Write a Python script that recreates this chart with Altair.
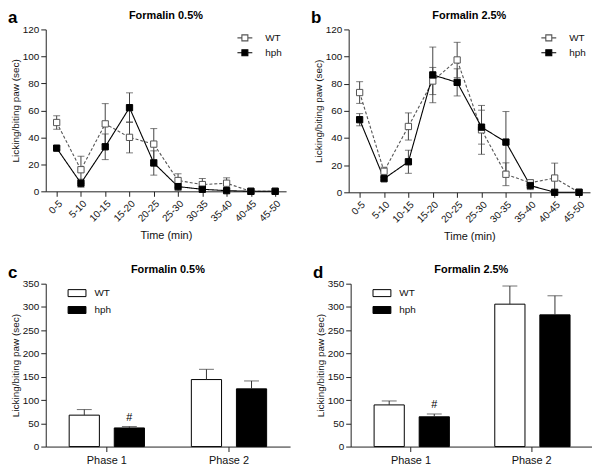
import altair as alt
import pandas as pd

FONT = "Liberation Sans"

times = ["0-5", "5-10", "10-15", "15-20", "20-25", "25-30", "30-35", "35-40", "40-45", "45-50"]
groups = ["WT", "hph"]
phases = ["Phase 1", "Phase 2"]
line_ticks = [0, 20, 40, 60, 80, 100, 120]
bar_ticks = [0, 50, 100, 150, 200, 250, 300, 350]

# Panel a: Formalin 0.5%
a_wt_mean = [51, 16, 50, 40, 35, 8, 5, 6, 0, 0]
a_wt_sem = [5, 10, 15, 11.5, 11.5, 5, 4.5, 4, 0, 0]
a_hph_mean = [32, 6, 33, 62, 21, 3.5, 1.5, 0.5, 0, 0]
a_hph_sem = [1, 3, 9.5, 11, 9, 3, 1, 0.5, 0, 0]

# Panel b: Formalin 2.5%
b_wt_mean = [73.5, 15.5, 48.5, 82, 97.5, 46, 13.3, 7, 10.5, 0]
b_wt_sem = [8, 3, 10, 10, 13, 18, 8.4, 2, 11, 0]
b_hph_mean = [53.5, 10, 22.5, 86.5, 81, 48, 37, 5, 0, 0]
b_hph_sem = [4.5, 1, 8.5, 20.5, 10, 12.5, 22.5, 3, 0, 0]

# Panel c: Formalin 0.5% phases
c_wt_mean = [67.5, 144]
c_wt_sem = [12, 22]
c_hph_mean = [40, 124]
c_hph_sem = [3, 17]

# Panel d: Formalin 2.5% phases
d_wt_mean = [89.5, 306]
d_wt_sem = [8.5, 39]
d_hph_mean = [64, 283]
d_hph_sem = [6, 41]

LINE_SYMBOL = "M-1,0L-0.4,0M0.4,0L1,0M-0.4,-0.4L0.4,-0.4L0.4,0.4L-0.4,0.4Z"
BAR_SYMBOL = "M-1,-0.39L1,-0.39L1,0.39L-1,0.39Z"
YTITLE = "Licking/biting paw (sec)"


def heading_layers(letter, title, w):
    let = alt.Chart(pd.DataFrame({"t": [letter]})).mark_text(
        font=FONT, fontSize=17, fontWeight="bold", align="left", baseline="top", color="black"
    ).encode(text="t:N", x=alt.value(-38), y=alt.value(-19))
    ttl = alt.Chart(pd.DataFrame({"t": [title]})).mark_text(
        font=FONT, fontSize=11, fontWeight="bold", align="center", baseline="middle", color="black"
    ).encode(text="t:N", x=alt.value(w / 2), y=alt.value(-14))
    return [let, ttl]


def line_panel(letter, title, wt_mean, wt_sem, hph_mean, hph_sem, w, h):
    rows = []
    for g, m, s in (("WT", wt_mean, wt_sem), ("hph", hph_mean, hph_sem)):
        for t, mv, sv in zip(times, m, s):
            rows.append({"time": t, "group": g, "mean": mv, "lo": max(mv - sv, 0), "hi": mv + sv})
    df = pd.DataFrame(rows)
    x = alt.X("time:N", sort=times, scale=alt.Scale(type="point", padding=0.45),
              axis=alt.Axis(title="Time (min)", labelAngle=-45, titlePadding=6, labelOverlap=False))
    yscale = alt.Scale(domain=[0, 120], nice=False)
    yaxis = alt.Axis(title=YTITLE, values=line_ticks, labelOverlap=False)

    def Y(field):
        return alt.Y(field, scale=yscale, axis=yaxis, title=YTITLE)

    base = alt.Chart(df).encode(x=x)
    err = base.mark_rule(color="#444", strokeWidth=1).encode(y=Y("lo:Q"), y2="hi:Q")
    cap_hi = base.mark_tick(color="#444", size=7, thickness=1, orient="horizontal").encode(y=Y("hi:Q"))
    cap_lo = base.mark_tick(color="#444", size=7, thickness=1, orient="horizontal").encode(y=Y("lo:Q"))
    lines = base.mark_line(strokeWidth=1.1).encode(
        y=Y("mean:Q"),
        detail="group:N",
        color=alt.Color("group:N", scale=alt.Scale(domain=groups, range=["#555555", "#000000"]), legend=None),
        strokeDash=alt.StrokeDash("group:N", scale=alt.Scale(domain=groups, range=[[3, 2], [1, 0]]), legend=None),
    )
    leg = alt.Legend(title=None, orient="none", legendX=w - 50, legendY=0, symbolType=LINE_SYMBOL,
                     symbolSize=225, symbolStrokeWidth=1.1, labelFontSize=10, labelFont=FONT,
                     rowPadding=1, labelOffset=12)
    points = base.mark_square(size=40, strokeWidth=1, opacity=1).encode(
        y=Y("mean:Q"),
        fill=alt.Fill("group:N", scale=alt.Scale(domain=groups, range=["white", "black"]), legend=leg),
        stroke=alt.Stroke("group:N", scale=alt.Scale(domain=groups, range=["#555555", "black"]), legend=leg),
    )
    return alt.layer(err, cap_hi, cap_lo, lines, points, *heading_layers(letter, title, w)).properties(
        width=w, height=h,
    ).resolve_scale(fill="independent", stroke="independent", color="independent", strokeDash="independent")


def bar_panel(letter, title, wt_mean, wt_sem, hph_mean, hph_sem, w, h):
    rows = []
    for g, m, s in (("WT", wt_mean, wt_sem), ("hph", hph_mean, hph_sem)):
        for p, mv, sv in zip(phases, m, s):
            rows.append({"phase": p, "group": g, "mean": mv, "hi": mv + sv,
                         "mark": "#" if (g == "hph" and p == "Phase 1") else ""})
    df = pd.DataFrame(rows)
    x = alt.X("phase:N", sort=phases, scale=alt.Scale(paddingInner=0, paddingOuter=0),
              axis=alt.Axis(title=None, labelAngle=0, labelFontSize=11, labelPadding=3))
    xo = alt.XOffset("group:N", sort=groups, scale=alt.Scale(paddingInner=0.33, paddingOuter=0.52))
    yscale = alt.Scale(domain=[0, 350], nice=False)
    yaxis = alt.Axis(title=YTITLE, values=bar_ticks, labelOverlap=False)

    def Y(field):
        return alt.Y(field, scale=yscale, axis=yaxis, title=YTITLE)

    base = alt.Chart(df).encode(x=x, xOffset=xo)
    err = base.mark_rule(color="#333", strokeWidth=1).encode(y=Y("mean:Q"), y2="hi:Q")
    cap = base.mark_tick(color="#333", size=15, thickness=1, orient="horizontal").encode(y=Y("hi:Q"))
    leg = alt.Legend(title=None, orient="none", legendX=22, legendY=0, symbolType=BAR_SYMBOL,
                     symbolSize=324, symbolStrokeWidth=1, labelFontSize=10, labelFont=FONT,
                     rowPadding=1, labelOffset=8)
    bars = base.mark_bar(strokeWidth=1, opacity=1).encode(
        y=Y("mean:Q"),
        fill=alt.Fill("group:N", scale=alt.Scale(domain=groups, range=["white", "black"]), legend=leg),
        stroke=alt.Stroke("group:N", scale=alt.Scale(domain=groups, range=["black", "black"]), legend=leg),
    )
    txt = base.mark_text(font=FONT, fontSize=11, dy=-9, color="black").encode(y=Y("hi:Q"), text="mark:N")
    return alt.layer(bars, err, cap, txt, *heading_layers(letter, title, w)).properties(
        width=w, height=h,
    ).resolve_scale(fill="independent", stroke="independent")


pa = line_panel("a", "Formalin 0.5%", a_wt_mean, a_wt_sem, a_hph_mean, a_hph_sem, 242, 163)
pb = line_panel("b", "Formalin 2.5%", b_wt_mean, b_wt_sem, b_hph_mean, b_hph_sem, 243, 164)
pc = bar_panel("c", "Formalin 0.5%", c_wt_mean, c_wt_sem, c_hph_mean, c_hph_sem, 246, 164)
pd_ = bar_panel("d", "Formalin 2.5%", d_wt_mean, d_wt_sem, d_hph_mean, d_hph_sem, 243, 164)

chart = alt.vconcat(
    alt.hconcat(pa, pb, spacing=25),
    alt.hconcat(pc, pd_, spacing=23),
    spacing=22,
).properties(
    padding={"left": 0, "top": 0, "right": 0, "bottom": 0}, background="white"
).configure_view(stroke=None).configure_axis(
    grid=False, domainColor="#222", tickColor="#222", labelColor="#111", titleColor="#111",
    labelFont=FONT, titleFont=FONT, labelFontSize=10, titleFontSize=10, titleFontWeight="normal",
    tickSize=5, labelPadding=2, titlePadding=2, domainWidth=1, tickWidth=1,
).configure_axisX(titleFontSize=11).configure_legend(labelColor="#111")

chart.save("out.html", embed_options={"renderer": "svg", "actions": False})
